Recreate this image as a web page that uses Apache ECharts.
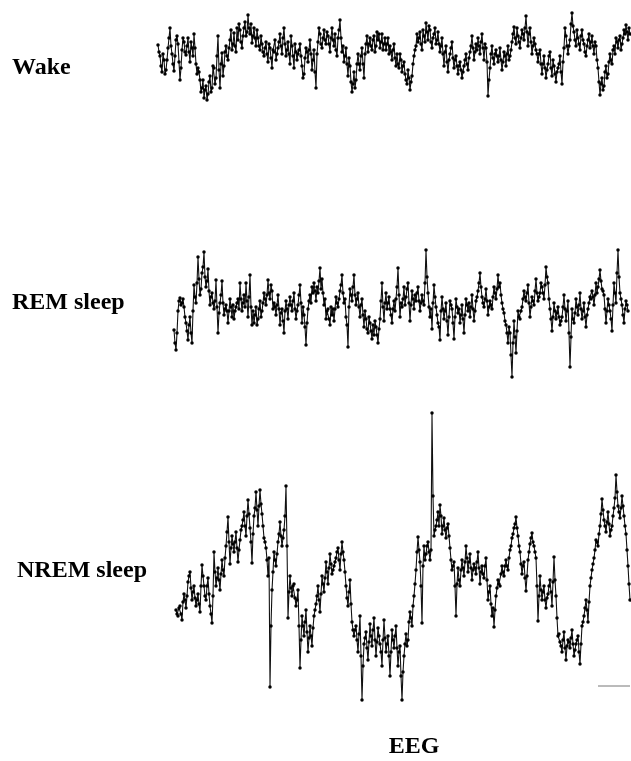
<!DOCTYPE html>
<html>
<head>
    <meta charset="utf-8">
    <script src="https://cdn.jsdelivr.net/npm/echarts@6/dist/echarts.min.js"></script>
    <style>
        html,body{margin:0;padding:0;background:#fff;}
        #main{width:631px;height:761px;}
    </style>
</head>
<body>
<div id="main"></div>
<script>
    // EEG amplitude samples (arbitrary units, positive = up).
    // *A holds every other sample, *B the samples that fall between them.
    var wakeA = [
        13, 2, -14, -2, -12, 10, 30, 4, -13, 18,
        14, -22, 8, 16, 3, 20, -4, 10, 24, -6,
        -10, -22, -30, -40, -28, -36, -18, -30, -10, -20,
        22, -30, 5, -8, 12, -2, 18, 8, 25, 6,
        18, 28, 10, 30, 22, 43, 24, 15, 30, 12,
        20, 8, 14, 2, 16, -4, 10, -10, 6, -2,
        10, 24, 4, 30, 2, 16, -6, 12, -10, 6,
        4, 14, -8, -16, 10, -4, 18, -12, 8, -30,
        16, 24, 10, 28, 14, 22, 6, 30, 12, 8,
        20, 38, 6, -4, 10, -18, -8, -34, -14, -22,
        4, -12, 10, -20, 14, 6, 20, 8, 22, 12,
        18, 10, 24, 14, 8, 20, 12, -2, 14, -8,
        -6, 4, -14, -4, -22, -12, -32, -18, 2, 12,
        16, 26, 8, 22, 35, 18, 28, 10, 24, 14,
        26, 6, 20, -8, 12, -14, 4, 16, -10, 2,
        -16, -4, -20, -8, 4, -12, 6, 22, -2, 14,
        20, 4, 24, -2, 10, -38, -10, 12, -6, 8,
        -4, 10, -12, 6, -8, 12, 2, 16, 31, 14,
        22, 10, 28, 18, 42, 12, 30, 4, 20, 8,
        -4, 8, -16, 2, -20, -6, 6, -18, -8, -24,
        -10, 2, -26, 10, 22, 4, 18, 45, 26, 12,
        20, 8, 28, 14, 2, 18, 10, 22, 4, 12,
        -10, -37, -20, -28, -8, -16, 4, -6, 12, 20,
        10, 22, 14, 28, 33, 18, 24
    ];
    var wakeB = [
        6, -8, 4, -16, -2, 20, 12, -6, 2, 22,
        -4, -10, 20, 6, 12, 6, 16, 2, 10, -16,
        -14, -34, -22, -32, -42, -24, -34, -8, -26, 2,
        -12, -6, -18, 6, 2, 10, 28, 14, 12, 30,
        34, 16, 22, 36, 26, 30, 34, 22, 20, 28,
        12, 22, 6, 10, 4, 14, 0, 8, 18, 4,
        16, 12, 20, 14, 8, 4, 22, 2, 14, -2,
        8, 2, -20, 0, 6, 8, 4, -2, -14, 4,
        30, 14, 20, 18, 26, 14, 20, 18, 24, 2,
        28, 20, 12, 2, -6, 0, -24, -26, -30, -6,
        -6, 2, -6, 4, 22, 14, 12, 18, 6, 26,
        24, 16, 8, 20, 14, 4, 6, 8, 0, 4,
        -10, -2, -8, -16, -26, -20, -24, -6, 8, 24,
        20, 14, 28, 16, 26, 32, 16, 20, 30, 18,
        14, 12, 4, 6, -4, -2, 10, 0, -2, -8,
        -8, -12, -14, -2, -6, 0, 12, 10, 6, 8,
        12, 16, 10, 14, -4, -22, 4, 0, 4, 2,
        2, -2, -4, 2, 4, -2, 8, 24, 20, 30,
        16, 20, 24, 30, 26, 24, 16, 12, 14, 4,
        4, -6, -6, -10, -12, 2, -10, -2, -16, -14,
        -6, -14, -4, 30, 12, 12, 34, 32, 18, 28,
        14, 22, 18, 6, 12, 24, 16, 12, 16, -2,
        -24, -26, -32, -14, -20, -4, -2, 8, 4, 16,
        18, 8, 20, 24, 26, 30
    ];
    var remA = [
        -17, -37, 2, 15, 10, 6, -10, -27, -4, -30,
        28, 10, 56, 18, 40, 61, 26, 44, 8, 20,
        4, 33, -20, 10, 32, -2, 8, -10, 14, -4,
        -6, 6, 14, 30, 2, 18, 30, -4, 38, -12,
        -10, 6, -6, 12, 2, 20, 8, 33, 14, 22,
        10, -2, 18, -12, 4, -20, 12, -6, 16, 2,
        20, -6, 8, 28, -10, -2, -32, 4, 18, 26,
        30, 12, 20, 45, 34, 8, -6, 4, -12, -2,
        -8, 16, 6, 22, 38, 10, -4, -34, 24, 12,
        38, 8, 20, -4, 14, -14, -6, -20, -10, -26,
        -22, -14, -30, -6, 30, -8, 20, 10, 4, -10,
        12, 14, 45, -4,
        6, 26, 16, 30, -8, 22, 4, 12, 26, 2,
        18, 8, 63, 20, -4, -16, 28, 6, -10, -27,
        16, -6, 10, -22, 12, 4, -26, 14, 0, -10,
        8, -20, 14, 2, -4, 18, -8, 12, 22, 40,
        16, 6, 24, -2, 12, 4, 26, 14, 38, 30,
        10, 0, -12, -30, -20, -64, -8, -40, 2, -6,
        6, 22, 12, 28, -4, 16, 8, 34, 12, 20,
        26, 14, 46, 30, 4, -18, 10, -6, 6, -12,
        -4, 18, -8, 12, -54, 4, -10, 14, -2, 20,
        -6, 10, -14, 4, 16, 22, 8, 30, 26, 43,
        24, 18, -10, 14, 2, -18, 30, 10, 63, 20,
        8, -10, 12, 2
    ];
    var remB = [
        -30, -20, 12, 8, 14, -4, -18, -12, -20, 2,
        16, 30, 34, 24, 46, 36, 32, 22, 16, 10,
        12, 6, 0, 18, 10, 4, 2, 2, 6, 8,
        2, 10, 4, 14, 10, 6, 12, 16, 6, 2,
        -2, -12, 4, -4, 10, 14, 18, 20, 28, 4,
        6, 8, 4, 0, -8, 2, 4, 8, 8, 12,
        4, 2, 18, 10, 6, -14, -10, 12, 10, 20,
        22, 26, 32, 24, 20, 14, 2, -6, 6, 4,
        4, 10, 14, 28, 20, 14, -12, 6, 18, 26,
        18, 14, 6, 8, -2, 2, -16, -4, -18, -12,
        -8, -22, -16, 12, 6, 10, 4, 16, -2, 4,
        2, 26, 18, 10,
        14, 8, 24, 10, 8, 14, 18, 20, 12, 10,
        12, 30, 36, 6, 4, 10, 16, -2, -14, 2,
        4, 2, -8, -4, 8, -10, -4, 6, 4, -2,
        -6, -2, 8, 10, 6, 4, 2, 16, 30, 26,
        10, 14, 12, 6, 8, 16, 20, 24, 26, 18,
        4, -8, -20, -14, -42, -30, -24, -18, -4, 2,
        14, 16, 20, 10, 6, 12, 22, 20, 16, 30,
        20, 28, 36, 14, -6, -4, 2, 0, -4, -8,
        6, 4, 2, -20, -24, -6, 0, 6, 8, 4,
        2, -4, -2, 10, 14, 16, 18, 20, 34, 32,
        22, 4, 2, 8, -6, 8, 20, 40, 36, 14,
        -2, 4, 8
    ];
    var nremA = [
        -54, -60, -50, -64, -38, -52, -26, -16, -44, -30,
        -50, -38, -56, -9, -30, -44, -22, -50, -67, 4,
        -30, -12, -34, -4, -20, 10, 39, -8, 20, 4,
        24, -6, 16, 30, 44, 20, 56, 28, -7, 40,
        64, 30, 66, 42, 18, 8, -20, -131, -34, 4,
        -10, 14, 34, 10, 26, 70, -62, -20, -40, -28,
        -50, -34, -112, -60, -80, -54, -96, -70, -90, -60,
        -48, -30, -56, -20, -36, -6, -28, 2, -18, -10,
        -2, 8, -14, 14, -4, -30, -50, -24, -66, -80,
        -70, -96, -60, -144, -88, -76, -104, -68, -90, -62,
        -100, -72, -88, -110, -64, -96, -80, -120, -74, -92,
        -70, -110, -90, -144, -100, -78, -84, -56, -70, -40,
        -14, 19, -6, -67, 10, 2, 14, -4, 143, 20,
        30, 44, 51, 22, 38, 18, 32, 8, -14, -6,
        -60, -12, -30, -4, -20, 10, -16, 2, -24, -8,
        -18, 4, -28, -10, -22, -2, -44, -30, -60, -71,
        -40, -24, -30, -10, -20, -4, -14, 6, 18, 28,
        39, 20, 4, -18, -6, -35, -4, 12, 23, 10,
        -2, -65, -20, -44, -30, -52, -38, -24, -50, -1,
        -40, -80, -86, -96, -76, -104, -84, -92, -74, -100,
        -88, -80, -108, -70, -60, -44, -66, -30, -14, -2,
        16, 10, 30, 57, 36, 24, 44, 20, 30, 48,
        81, 50, 38, 60, 40, 22, -10, -44
    ];
    var nremB = [
        -58, -52, -58, -46, -44, -40, -20, -32, -36, -42,
        -44, -48, -30, -20, -40, -30, -38, -58, -40, -16,
        -22, -24, -18, -14, -2, 24, 14, 8, 12, 14,
        8, 6, 26, 36, 30, 40, 42, 14, 22, 48,
        46, 50, 52, 30, 14, -4, -2, -70, -16, -4,
        2, 22, 20, 18, 40, 10, -36, -32, -30, -42,
        -44, -70, -84, -70, -66, -76, -82, -80, -72, -54,
        -40, -44, -38, -28, -22, -16, -12, -8, -14, -6,
        4, -4, 2, 4, -16, -42, -36, -48, -74, -74,
        -84, -78, -100, -110, -82, -92, -86, -80, -74, -84,
        -86, -80, -96, -84, -82, -88, -100, -96, -84, -80,
        -92, -96, -120, -116, -88, -90, -66, -62, -50, -28,
        4, 6, -30, -10, -4, 10, 4, 6, 60, 26,
        36, 30, 40, 30, 26, 28, 20, -4, -10, -30,
        -28, -24, -14, -12, -6, -2, -6, -12, -14, -12,
        -6, -12, -16, -18, -10, -24, -36, -48, -52, -54,
        -32, -28, -18, -16, -10, -10, -2, 10, 22, 32,
        28, 10, -8, -10, -22, -20, 4, 18, 14, 4,
        -30, -40, -34, -36, -44, -42, -30, -36, -26, -24,
        -62, -78, -90, -84, -92, -90, -86, -82, -88, -94,
        -84, -96, -88, -66, -52, -54, -46, -22, -8, 6,
        14, 22, 42, 46, 30, 34, 32, 26, 40, 58,
        64, 44, 48, 50, 30, 6, -28
    ];
    var stageLabels = ['Wake', 'REM sleep', 'NREM sleep'];
    var bottomLabel = 'EEG';

    // merge the two sample lists back into one trace
    function merge(a, b){
        var out = [];
        a.forEach(function(v, i){
            out.push(v);
            if (i < b.length) out.push(b[i]);
        });
        return out;
    }

    var traces = [merge(wakeA, wakeB), merge(remA, remB), merge(nremA, nremB)];
    var grids = [
        {left: 158, right: 1, top: 13, height: 90},
        {left: 174, right: 3, top: 243, height: 140},
        {left: 176, right: 1, top: 406, height: 300}
    ];
    var yRange = [45, 70, 150];
    var labelPos = [[12, 68], [12, 303], [17, 571]];
    var labelFont = 'bold 24px "Liberation Serif", "Times New Roman", serif';

    var myChart = echarts.init(document.getElementById('main'));
    var option = {
        animation: false,
        backgroundColor: '#fff',
        grid: grids,
        xAxis: traces.map(function(t, i){
            return {type: 'category', gridIndex: i, data: t.map(function(v, k){ return k; }), boundaryGap: false, show: false};
        }),
        yAxis: traces.map(function(t, i){
            return {type: 'value', gridIndex: i, min: -yRange[i], max: yRange[i], show: false};
        }),
        series: traces.map(function(t, i){
            return {
                type: 'line',
                xAxisIndex: i,
                yAxisIndex: i,
                data: t,
                symbol: 'circle',
                symbolSize: 3.5,
                showAllSymbol: true,
                lineStyle: {color: '#111', width: 1.1},
                itemStyle: {color: '#000'},
                silent: true
            };
        }),
        graphic: stageLabels.map(function(s, i){
            return {
                type: 'text',
                x: labelPos[i][0],
                y: labelPos[i][1],
                style: {text: s, font: labelFont, fill: '#000', verticalAlign: 'middle'}
            };
        }).concat([
            {
                type: 'text',
                x: 414,
                y: 747,
                style: {text: bottomLabel, font: labelFont, fill: '#000', align: 'center', verticalAlign: 'middle'}
            },
            {
                // scale bar
                type: 'line',
                shape: {x1: 598, y1: 686, x2: 630, y2: 686},
                style: {stroke: '#777', lineWidth: 1}
            }
        ])
    };
    myChart.setOption(option);
</script>
</body>
</html>
